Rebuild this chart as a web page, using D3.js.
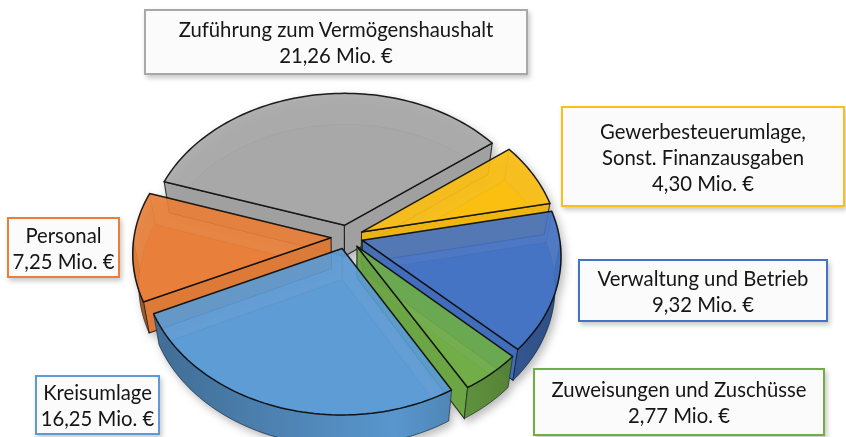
<!DOCTYPE html>
<html><head><meta charset="utf-8">
<script src="https://cdnjs.cloudflare.com/ajax/libs/d3/7.8.5/d3.min.js"></script>
<style>html,body{margin:0;padding:0;background:#fff;overflow:hidden}svg{display:block}</style>
</head><body><svg id="c" width="846" height="437"></svg>
<script>
// data
const categories = ["Zuführung zum Vermögenshaushalt","Gewerbesteuerumlage, Sonst. Finanzausgaben","Verwaltung und Betrieb","Zuweisungen und Zuschüsse","Kreisumlage","Personal"];
const values = [21.26, 4.30, 9.32, 2.77, 16.25, 7.25];
const labelLines = [["Zuführung zum Vermögenshaushalt"],["Gewerbesteuerumlage,","Sonst. Finanzausgaben"],["Verwaltung und Betrieb"],["Zuweisungen und Zuschüsse"],["Kreisumlage"],["Personal"]];
// styles & layout
const colors = ["#A8A8A8","#FBBF12","#4472C4","#70AD47","#5B9BD5","#E97F38"];
const drawOrder = [0,1,5,2,3,4];
const boxes = [[145,10,382,64],[562,107,282,99],[579,260,248,61],[534,369,290,66],[36,376,123,58],[8,218,111,59]];
const cx=347, cy=237, R=197, tilt=.748, k=.1, explode=16, drop=31, shrink=.972, op=.86;
const rad=Math.PI/180;

const svg=d3.select("#c");
const defs=svg.append("defs");
const sh=defs.append("filter").attr("id","bs").attr("x","-10%").attr("y","-20%").attr("width","125%").attr("height","150%");
sh.append("feDropShadow").attr("dx",2).attr("dy",3).attr("stdDeviation",2.5).attr("flood-color","#000").attr("flood-opacity",.22);
const soft=defs.append("filter").attr("id","soft").attr("x","-5%").attr("y","-5%").attr("width","110%").attr("height","110%");
soft.append("feGaussianBlur").attr("stdDeviation",.5);
colors.forEach((c,i)=>{
  const g=defs.append("linearGradient").attr("id","w"+i).attr("gradientUnits","userSpaceOnUse")
    .attr("x1",cx-R).attr("x2",cx+R).attr("y1",0).attr("y2",0);
  g.append("stop").attr("offset",0).attr("stop-color",d3.color(c).darker(1.1));
  g.append("stop").attr("offset",.62).attr("stop-color",d3.color(c).darker(.12));
  g.append("stop").attr("offset",1).attr("stop-color",d3.color(c).darker(1.1));
});

const arcs=d3.pie().sort(null).value(d=>d).startAngle(-72*rad).endAngle(288*rad)(values);

function project(X,v,h){
  const s=1/(1-k*v/R);
  let x=cx+X*s, y=cy+tilt*v*s;
  if(h){x=cx+(x-cx)*shrink;y+=drop;}
  return [x,y];
}
const poly=d3.line();
const closed=p=>poly(p)+"Z";

const root=svg.append("g").attr("filter","url(#soft)");
const pieG=root.append("g").style("filter","drop-shadow(3px 4px 4px rgba(0,0,0,.28))");

drawOrder.forEach(i=>{
  const a=arcs[i], c=colors[i], m=(a.startAngle+a.endAngle)/2;
  const ox=explode*Math.sin(m), ov=-explode*Math.cos(m);
  const P=(ang,r,h)=>project(ox+r*Math.sin(ang),ov-r*Math.cos(ang),h);
  const angs=d3.range(a.startAngle,a.endAngle,1.5*rad).concat([a.endAngle]);
  const g=pieG.append("g");
  const face=h=>[P(0,0,h)].concat(angs.map(t=>P(t,R,h)));
  // bottom face
  g.append("path").attr("d",closed(face(true))).attr("fill",c).attr("fill-opacity",op)
    .attr("stroke","#000").attr("stroke-opacity",.14).attr("stroke-width",1);
  // back outer wall and back radial walls: seen through the top
  const isFront=t=>Math.cos(t)<=0.0;
  const backA=angs.filter(t=>!isFront(t)), frontA=angs.filter(isFront);
  const strip=list=>list.map(t=>P(t,R,false)).concat(list.slice().reverse().map(t=>P(t,R,true)));
  if(backA.length>1) g.append("path").attr("d",closed(strip(backA))).attr("fill",c).attr("fill-opacity",.35)
    .attr("stroke","#000").attr("stroke-opacity",.12);
  const wall=t=>[P(0,0,false),P(t,R,false),P(t,R,true),P(0,0,true)];
  const walls=[[a.startAngle,-Math.sin(a.startAngle)>0],[a.endAngle,Math.sin(a.endAngle)>0]];
  walls.filter(w=>!w[1]).forEach(w=>{
    g.append("path").attr("d",closed(wall(w[0]))).attr("fill",c).attr("fill-opacity",.4)
      .attr("stroke","#000").attr("stroke-opacity",.16);
  });
  walls.filter(w=>w[1]).forEach(w=>{
    g.append("path").attr("d",closed(wall(w[0]))).attr("fill",d3.color(c).darker(.15)).attr("fill-opacity",.93)
      .attr("stroke","#0b0b0b").attr("stroke-opacity",.75).attr("stroke-width",1.1);
  });
  if(frontA.length>1) g.append("path").attr("d",closed(strip(frontA))).attr("fill","url(#w"+i+")").attr("fill-opacity",.95)
    .attr("stroke","#10202c").attr("stroke-opacity",.55).attr("stroke-width",1);
  // top face
  g.append("path").attr("d",closed(face(false))).attr("fill",c).attr("fill-opacity",op)
    .attr("stroke","#0b0b0b").attr("stroke-opacity",.9).attr("stroke-width",1.5).attr("stroke-linejoin","round");
});

// labels
const fmt=v=>v.toFixed(2).replace(".",",")+" Mio. €";
const lg=root.append("g");
categories.forEach((name,i)=>{
  const [x,y,w,h]=boxes[i];
  lg.append("rect").attr("x",x).attr("y",y).attr("width",w).attr("height",h)
    .attr("fill","#FBFBFB").attr("stroke",colors[i]).attr("stroke-width",2).attr("filter","url(#bs)");
  const lines=labelLines[i].concat([fmt(values[i])]);
  const lh=26, y0=y+h/2+1-(lines.length-1)*lh/2;
  lines.forEach((t,j)=>{
    lg.append("text").attr("x",x+w/2).attr("y",y0+j*lh).attr("dy","0.35em").attr("text-anchor","middle")
      .attr("font-family","Lato, sans-serif").attr("font-size",20.3).attr("fill","#141414").text(t);
  });
});
</script></body></html>
